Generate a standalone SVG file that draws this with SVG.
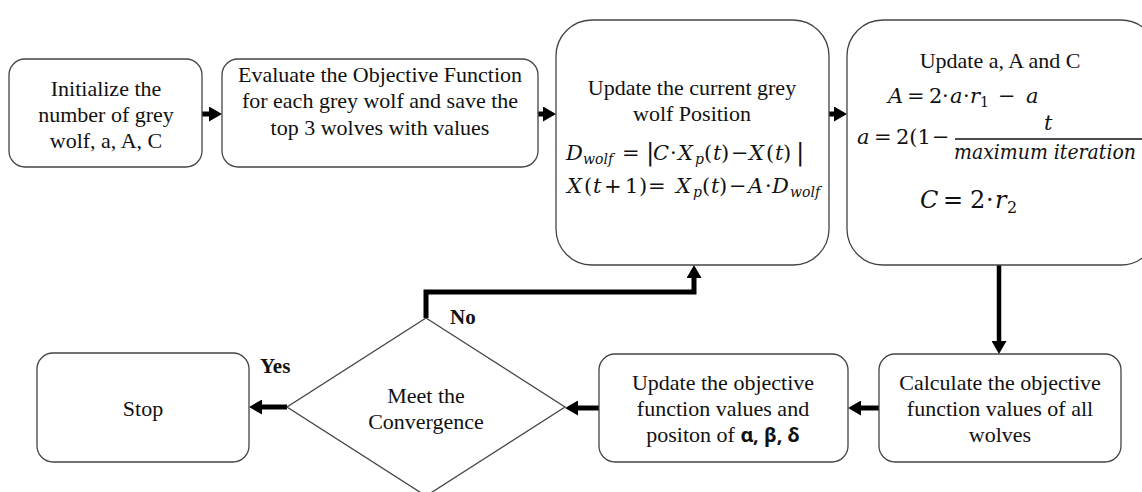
<svg xmlns="http://www.w3.org/2000/svg" width="1142" height="492" viewBox="0 0 1142 492">
<style>
.box{fill:#fff;stroke:#444;stroke-width:1.3}
.t{font-family:"Liberation Serif","Times New Roman",serif;font-size:22px;fill:#111;text-anchor:middle}
.lbl{font-family:"Liberation Serif","Times New Roman",serif;font-size:21px;font-weight:bold;fill:#111}
.m{font-family:"DejaVu Serif","Liberation Serif",serif;font-size:21px;fill:#111;font-style:italic}
.up{font-style:normal}
.sub{font-size:14px}
.gr{font-family:"Noto Sans","DejaVu Sans",sans-serif;font-weight:bold;font-size:20px}
.c{fill:none;stroke:#000;stroke-width:5}
</style>
<defs>
<marker id="ah" markerUnits="userSpaceOnUse" markerWidth="14" markerHeight="15" refX="0" refY="7.5" orient="auto"><path d="M0,0 L13,7.5 L0,15 z" fill="#000"/></marker>
</defs>

<g id="connectors">
<path class="c" d="M195,114 H209" marker-end="url(#ah)"/>
<path class="c" d="M535,114 H543" marker-end="url(#ah)"/>
<path class="c" d="M826,114 H834" marker-end="url(#ah)"/>
<path class="c" d="M999,265 V341" marker-end="url(#ah)" style="stroke-width:4.5"/>
<path class="c" d="M882,408 H861" marker-end="url(#ah)"/>
<path class="c" d="M602,408 H578" marker-end="url(#ah)"/>
<path class="c" d="M287,407 H262" marker-end="url(#ah)"/>
<path class="c" d="M426,318 V292 H694 V278" marker-end="url(#ah)"/>
</g>

<g id="init">
<rect class="box" x="9" y="59" width="193" height="108" rx="16"/>
<text class="t" x="106" y="96">Initialize the</text>
<text class="t" x="106" y="122">number of grey</text>
<text class="t" x="106" y="148">wolf, a, A, C</text>
</g>

<g id="evaluate">
<rect class="box" x="222" y="59" width="316" height="108" rx="16"/>
<text class="t" x="380" y="82">Evaluate the Objective Function</text>
<text class="t" x="380" y="108">for each grey wolf and save the</text>
<text class="t" x="380" y="135">top 3 wolves with values</text>
</g>

<g id="update-position">
<rect class="box" x="556" y="20" width="273" height="245" rx="36"/>
<text class="t" x="692" y="95">Update the current grey</text>
<text class="t" x="692" y="121">wolf Position</text>
<text class="m" y="160"><tspan x="566">D</tspan><tspan class="sub" x="583" dy="4">wolf</tspan><tspan class="up" x="622" dy="-4">=</tspan><tspan class="up" x="646" style="font-size:25px">|</tspan><tspan x="653">C</tspan><tspan class="up" x="670">·</tspan><tspan x="678">X</tspan><tspan class="sub" x="695" dy="4">p</tspan><tspan class="up" x="704" dy="-4">(</tspan><tspan x="713">t</tspan><tspan class="up" x="721">)</tspan><tspan class="up" x="731">−</tspan><tspan x="749">X</tspan><tspan class="up" x="766">(</tspan><tspan x="775">t</tspan><tspan class="up" x="783">)</tspan><tspan class="up" x="796" style="font-size:25px">|</tspan></text>
<text class="m" y="193"><tspan x="567">X</tspan><tspan class="up" x="584">(</tspan><tspan x="593">t</tspan><tspan class="up" x="604">+</tspan><tspan class="up" x="625">1</tspan><tspan class="up" x="639">)</tspan><tspan class="up" x="648">=</tspan><tspan x="676">X</tspan><tspan class="sub" x="693" dy="4">p</tspan><tspan class="up" x="702" dy="-4">(</tspan><tspan x="711">t</tspan><tspan class="up" x="719">)</tspan><tspan class="up" x="729">−</tspan><tspan x="748">A</tspan><tspan class="up" x="765">·</tspan><tspan x="772">D</tspan><tspan class="sub" x="790" dy="4">wolf</tspan></text>
</g>

<g id="update-params">
<rect class="box" x="847" y="20" width="310" height="245" rx="36"/>
<text class="t" x="1000" y="68">Update a, A and C</text>
<text class="m" y="103"><tspan x="888">A</tspan><tspan class="up" x="907">=</tspan><tspan class="up" x="929">2</tspan><tspan class="up" x="942">·</tspan><tspan x="950">a</tspan><tspan class="up" x="963">·</tspan><tspan x="970">r</tspan><tspan class="up sub" x="980" dy="4">1</tspan><tspan class="up" x="998" dy="-4">−</tspan><tspan x="1026">a</tspan></text>
<text class="m" y="144"><tspan x="857">a</tspan><tspan class="up" x="874">=</tspan><tspan class="up" x="896">2(1</tspan><tspan class="up" x="932">−</tspan></text>
<text class="m" x="1044" y="130">t</text>
<line x1="955" y1="139" x2="1145" y2="139" stroke="#111" stroke-width="1.3"/>
<text class="m" x="954" y="159" textLength="182" lengthAdjust="spacingAndGlyphs">maximum iteration</text>
<text class="m" y="208" style="font-size:24px"><tspan x="920">C</tspan><tspan class="up" x="943">=</tspan><tspan class="up" x="970">2</tspan><tspan class="up" x="986">·</tspan><tspan x="995">r</tspan><tspan class="up sub" x="1007" dy="5" style="font-size:16px">2</tspan></text>
</g>

<g id="calculate">
<rect class="box" x="879" y="354" width="242" height="108" rx="16"/>
<text class="t" x="1000" y="390">Calculate the objective</text>
<text class="t" x="1000" y="416">function values of all</text>
<text class="t" x="1000" y="442">wolves</text>
</g>

<g id="update-objective">
<rect class="box" x="599" y="354" width="249" height="108" rx="16"/>
<text class="t" x="723" y="390">Update the objective</text>
<text class="t" x="723" y="416">function values and</text>
<text class="t" x="723" y="442">positon of <tspan class="gr">α, β, δ</tspan></text>
</g>

<g id="convergence">
<polygon class="box" points="426,318 565,407 426,496 287,407"/>
<text class="t" x="426" y="403">Meet the</text>
<text class="t" x="426" y="429">Convergence</text>
</g>

<g id="stop">
<rect class="box" x="37" y="353" width="212" height="109" rx="16"/>
<text class="t" x="143" y="416">Stop</text>
</g>

<g id="labels">
<text class="lbl" x="450" y="324">No</text>
<text class="lbl" x="260" y="373">Yes</text>
</g>
</svg>
